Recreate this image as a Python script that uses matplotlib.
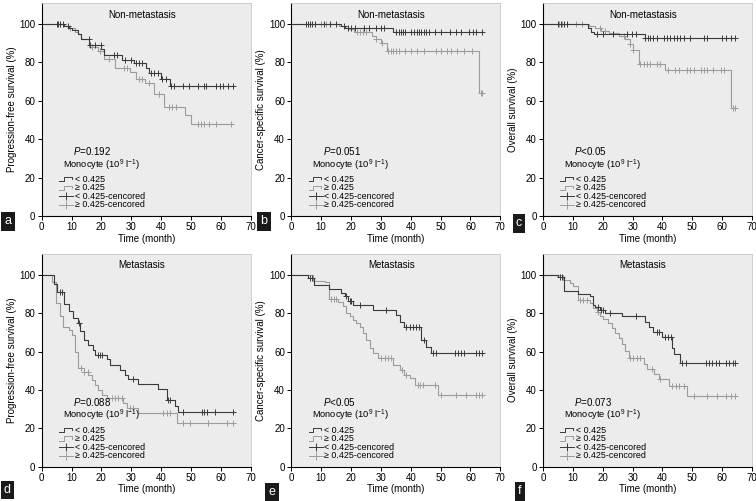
import numpy as np
import matplotlib
matplotlib.use("Agg")
import matplotlib.pyplot as plt

plt.rcParams['font.family'] = ['Liberation Sans', 'DejaVu Sans']
plt.rcParams['mathtext.fontset'] = 'custom'
plt.rcParams['mathtext.it'] = 'Liberation Sans:italic'
plt.rcParams['mathtext.rm'] = 'Liberation Sans'

# ---- data: step times (t), survival after step (s), censored times (c) ----
# a: progression-free, non-metastasis
a_lo_t = [0, 7.5, 9, 10, 12, 13, 16, 20, 21, 27, 31, 35, 36, 40, 43]
a_lo_s = [100, 99, 98, 97, 95, 92, 89, 87, 84, 81.5, 79.5, 77, 74.5, 71.5, 68]
a_lo_c = [5, 5.6, 6.2, 7, 8.8, 15.7, 16.3, 18, 19.7, 24.2, 25.3, 28, 29.8, 31.5,
          32.6, 33.7, 36.5, 37.6, 38.8, 40.4, 41.6, 43.3, 44.4, 47.2, 49.4, 52.2,
          54.5, 55, 58.4, 59.6, 60.7, 62.4, 64.2]
a_hi_t = [0, 7.5, 9, 11, 12, 13, 16, 19, 21, 24.5, 29.5, 31.5, 34.5, 37.5, 41, 48, 50]
a_hi_s = [100, 99, 98, 96, 95, 92, 88, 86, 82, 77, 75.3, 71.3, 69.2, 63.6, 57, 52.7, 47.8]
a_hi_c = [6, 9.5, 17, 19.5, 22.5, 27.5, 28.7, 32.6, 33.7, 36, 39.3, 42.7, 43.8, 45,
          52.2, 53.4, 54.5, 56.2, 58.4, 63.5]

# b: cancer-specific, non-metastasis
b_lo_t = [0, 16.5, 18, 34]
b_lo_s = [100, 99, 98, 96]
b_lo_c = [5, 5.6, 6.2, 7, 8, 11, 13, 15, 17.5, 19, 20, 21.5, 24.5, 26, 28.5, 30, 31,
          35, 36, 36.8, 37.5, 38.2, 40, 41, 42, 42.7, 43.5, 44.3, 45, 46, 48, 50,
          53, 55, 57, 59.5, 61, 62, 64]
b_hi_t = [0, 16, 19, 21, 27, 28.5, 30, 32, 63]
b_hi_s = [100, 99, 97.5, 96, 94, 92.3, 90, 86, 64]
b_hi_c = [10, 11.5, 22, 23, 24, 25, 28.5, 30.5, 32.5, 33.3, 34, 35, 36, 38, 40, 42,
          44.5, 48.5, 50, 52, 53.5, 55.5, 58, 60.5, 63.5, 64]

# c: overall, non-metastasis
c_lo_t = [0, 15, 16, 17, 34]
c_lo_s = [100, 98, 96, 95, 92.5]
c_lo_c = [5, 6, 7, 8, 18, 20.2, 23.6, 28, 29.8, 31, 34.3, 35, 36, 37, 38.2, 40.4,
          41.6, 42.7, 43.8, 45, 46, 47.2, 49.4, 54, 55, 60, 61.2, 63, 64.4]
c_hi_t = [0, 15.5, 17.5, 19.5, 22, 25.5, 27.5, 29, 30, 32, 41, 63]
c_hi_s = [100, 99, 98, 96.5, 95.5, 94, 92, 89.5, 86.5, 79, 76, 56.5]
c_hi_c = [5.5, 6.5, 11, 13, 19, 20.8, 27, 29.2, 30.3, 32.6, 33.7, 34.8, 36, 38.2,
          39.3, 42, 44.3, 45.5, 48.3, 49.4, 50.6, 52.8, 54, 55, 57, 59.5, 60.7,
          63.5, 64.3]

# d: progression-free, metastasis
d_lo_t = [0, 4, 5, 7.5, 9, 10.5, 12, 12.8, 14, 15.5, 17.3, 18, 21.8, 22.9, 26.2,
          27.9, 29, 32.4, 39, 41.9, 44.6, 45.8]
d_lo_s = [100, 95, 91, 85, 81, 77.5, 75, 70.5, 66, 63.5, 61, 58, 56, 53, 50.5,
          48, 45.5, 43, 40.3, 35, 31.5, 28.5]
d_lo_c = [6, 6.7, 12.5, 19, 19.5, 20.2, 30.7, 42.4, 43, 47.4, 53.6, 54.5, 55.2, 58, 64.2]
d_hi_t = [0, 3.3, 4.7, 6, 7, 9, 10, 11.2, 12, 14, 15.6, 16.7, 17.9, 19, 20.1, 21.8,
          27.3, 28.5, 32.4, 45.2]
d_hi_s = [100, 96, 85.2, 78.5, 73, 71, 68.5, 60, 51.5, 49.6, 47.8, 45.2, 42.6, 40,
          37.4, 35.6, 33, 30.8, 27.8, 23]
d_hi_c = [13, 14, 15.5, 23.4, 24.6, 25.7, 26.8, 29.6, 30.7, 40.7, 41.9, 43, 47.4,
          49.7, 55.8, 62, 64.2]

# e: cancer-specific, metastasis
e_lo_t = [0, 5.6, 7.6, 12.5, 16.7, 17.9, 19, 20.6, 27.3, 35.2, 36.3, 37.9, 43.5, 45.2, 46.9]
e_lo_s = [100, 98.5, 94.8, 92.7, 90.4, 88.7, 86.6, 84.3, 81.7, 79, 75.6, 73, 66, 62.3, 59]
e_lo_c = [6.1, 6.9, 18.4, 19.5, 20.1, 22.9, 31.8, 38.5, 39.6, 40.7, 41.8, 42.9, 44.4,
          47.4, 48.5, 54.7, 55.8, 56.9, 58, 62, 63, 64]
e_hi_t = [0, 7.3, 11.2, 12.5, 15.6, 17.3, 18.4, 19.5, 20.6, 21.8, 22.9, 24, 25.1,
          26.2, 27.3, 29, 34, 36.3, 37.9, 39.6, 41.3, 49.1]
e_hi_s = [100, 97, 96, 87.4, 85.6, 83.5, 80.3, 78.3, 76.5, 74.8, 72.7, 69.6, 66,
          61.7, 59.4, 56.5, 53, 50.4, 47.8, 46, 42.6, 37.4]
e_hi_c = [13.4, 14.3, 15.1, 30.1, 31.3, 32.4, 33.3, 37.2, 38.4, 42.4, 43, 44, 48,
          50.2, 55.2, 58.6, 61.9, 63, 64]

# f: overall, metastasis
f_lo_t = [0, 5, 7, 11.8, 15.7, 16.6, 17.4, 19, 20.8, 26.4, 34.3, 35.4, 37, 39.9,
          43.3, 44, 46]
f_lo_s = [100, 98.6, 91.5, 90.1, 88.7, 84.3, 83.1, 81.7, 80, 78.3, 75.6, 73, 70.4,
          67.8, 61.7, 58.5, 54.2]
f_lo_c = [5.6, 6.2, 18.5, 19.5, 20.2, 22.5, 31.2, 38.2, 38.8, 41, 42, 43, 46.6, 47.8,
          54.5, 55.6, 56.7, 57.9, 59, 61.2, 62.4, 63.5, 64.4]
f_hi_t = [0, 6.7, 9, 10, 11.8, 15.7, 16.9, 18, 19.1, 20.2, 21.9, 23, 24.2, 25.3,
          26.4, 27.5, 28.7, 33.7, 34.8, 37.1, 38.8, 42.1, 48.3]
f_hi_s = [100, 97.4, 95.8, 94, 87.1, 85.4, 82.8, 80.8, 78.5, 76.8, 75.1, 72.5, 69.9,
          67.3, 63.8, 60.4, 56.6, 53.5, 50.9, 48.3, 45.7, 42.2, 37]
f_hi_c = [12.4, 13.5, 14.6, 18.5, 29.2, 30.3, 31.5, 32.6, 36.5, 39.3, 43.3, 44.4,
          45.5, 47.2, 50.6, 55, 58.4, 61.2, 62.9, 64.4]

panel_letters = ['a', 'b', 'c', 'd', 'e', 'f']
panel_titles = ['Non-metastasis'] * 3 + ['Metastasis'] * 3
ylabels = ['Progression-free survival (%)', 'Cancer-specific survival (%)',
           'Overall survival (%)'] * 2
pvalues = ['=0.192', '=0.051', '<0.05', '=0.088', '<0.05', '=0.073']
legend_labels = ['< 0.425', '\u2265 0.425', '< 0.425-cencored', '\u2265 0.425-cencored']

curves = [
    (a_lo_t, a_lo_s, a_lo_c, a_hi_t, a_hi_s, a_hi_c),
    (b_lo_t, b_lo_s, b_lo_c, b_hi_t, b_hi_s, b_hi_c),
    (c_lo_t, c_lo_s, c_lo_c, c_hi_t, c_hi_s, c_hi_c),
    (d_lo_t, d_lo_s, d_lo_c, d_hi_t, d_hi_s, d_hi_c),
    (e_lo_t, e_lo_s, e_lo_c, e_hi_t, e_hi_s, e_hi_c),
    (f_lo_t, f_lo_s, f_lo_c, f_hi_t, f_hi_s, f_hi_c),
]

DARK = '#3a3a3a'
LIGHT = '#9c9c9c'
BG = '#ececec'
FS = 7
LFS = 6.4


def km(ax, t, s, c, color, tmax):
    t = list(t)
    s = list(s)
    end = max(tmax, t[-1])
    ax.step(t + [end], s + [s[-1]], where='post', color=color, lw=0.8)
    idx = np.searchsorted(t, c, side='right') - 1
    ax.plot(c, np.array(s)[idx], ls='none', marker='+', ms=3.8, mew=0.7, color=color)


def legend_key(ax, y, kind, color, text):
    x0, x1 = 0.083, 0.150
    tr = ax.transAxes
    if kind == 'step':
        h = 0.02
        xs = [x0, x0 + 0.022, x0 + 0.022, x1 - 0.006, x1 - 0.006]
        ys = [y - h / 2, y - h / 2, y + h / 2, y + h / 2, y]
        ax.plot(xs, ys, color=color, lw=0.7, transform=tr, clip_on=False)
    else:
        ax.plot([x0, x1], [y, y], color=color, lw=0.7, transform=tr)
        ax.plot([(x0 + x1) / 2], [y], marker='+', ms=6, mew=0.7, color=color,
                transform=tr)
    ax.text(0.158, y, text, transform=tr, fontsize=LFS, va='center', ha='left')


fig = plt.figure(figsize=(7.56, 5.01), dpi=100)
W, H = 756.0, 501.0
col_x = [41.7, 291.3, 543.0]
row_bottom = [216.0, 466.7]
ax_w, ax_h = 209.0, 213.0
label_pos = [(8, 221.5), (264, 221.5), (519, 223.5), (7.5, 490), (272, 492), (520, 491.5)]

for i in range(6):
    r, cidx = divmod(i, 3)
    left = col_x[cidx] / W
    bottom = (H - row_bottom[r]) / H
    ax = fig.add_axes([left, bottom, ax_w / W, ax_h / H])
    ax.set_facecolor(BG)
    lo_t, lo_s, lo_c, hi_t, hi_s, hi_c = curves[i]
    tmax = max(lo_c + hi_c)
    km(ax, hi_t, hi_s, hi_c, LIGHT, tmax)
    km(ax, lo_t, lo_s, lo_c, DARK, tmax)

    ax.set_xlim(0, 70)
    ax.set_ylim(0, 111)
    ax.set_xticks(range(0, 71, 10))
    ax.set_yticks(range(0, 101, 20))
    ax.tick_params(labelsize=FS, length=3, width=0.7, pad=1.5, direction='out')
    for sp in ['top', 'right']:
        ax.spines[sp].set_color('#c8c8c8')
        ax.spines[sp].set_linewidth(0.6)
    for sp in ['left', 'bottom']:
        ax.spines[sp].set_linewidth(0.8)
    ax.set_xlabel('Time (month)', fontsize=FS, labelpad=1)
    ax.set_ylabel(ylabels[i], fontsize=FS, labelpad=2)

    ax.text(33.5, 105, panel_titles[i], fontsize=FS, ha='center', va='center')
    ax.text(0.15, 0.305, r'$\it{P}$' + pvalues[i], transform=ax.transAxes,
            fontsize=FS, ha='left', va='center')
    ax.text(0.10, 0.24, 'Monocyte (10$^9$ l$^{-1}$)', transform=ax.transAxes,
            fontsize=LFS + 0.3, ha='left', va='center')
    key_y = [0.172, 0.132, 0.092, 0.052]
    legend_key(ax, key_y[0], 'step', DARK, legend_labels[0])
    legend_key(ax, key_y[1], 'step', LIGHT, legend_labels[1])
    legend_key(ax, key_y[2], 'cens', DARK, legend_labels[2])
    legend_key(ax, key_y[3], 'cens', LIGHT, legend_labels[3])

    lx, ly = label_pos[i]
    fig.text(lx / W, 1 - ly / H, panel_letters[i], fontsize=9, color='white',
             ha='center', va='center',
             bbox=dict(boxstyle='square,pad=0.25', facecolor='#1a1a1a', edgecolor='none'))

fig.savefig('out.png', dpi=100)
